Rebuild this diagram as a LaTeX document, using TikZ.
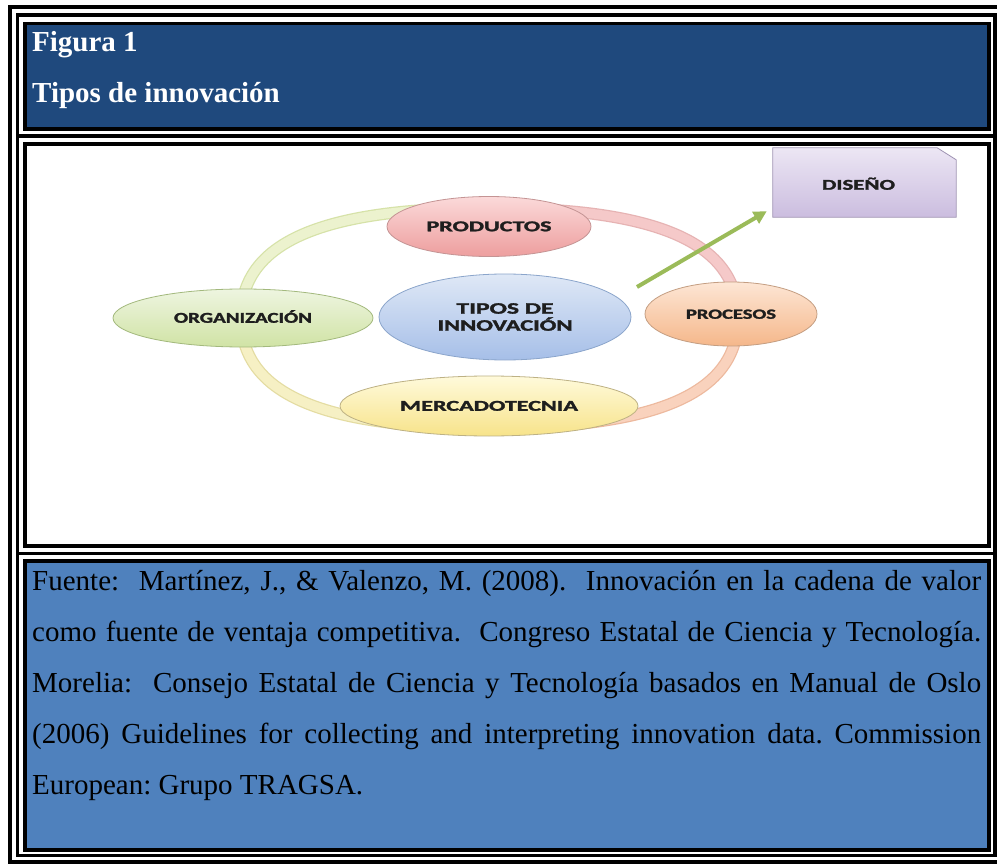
\documentclass[tikz,border=0pt]{standalone}
\usepackage{fontspec}
\usepackage{graphicx}
\setmainfont{Liberation Serif}
\newfontfamily\lblfont[BoldFont={Carlito Bold},BoldFeatures={FakeBold=1.6}]{Carlito}
\usetikzlibrary{arrows.meta,shapes.geometric}
\definecolor{titleblue}{HTML}{1F497D}
\definecolor{srcblue}{HTML}{4F81BD}
\definecolor{lblgray}{HTML}{1E1E1E}
\definecolor{arrowgreen}{HTML}{9BBB59}
% ring colours
\definecolor{pinkE}{HTML}{E6B3B3}\definecolor{pinkF}{HTML}{F5C9C9}
\definecolor{greenE}{HTML}{D6E2A8}\definecolor{greenF}{HTML}{ECF2CE}
\definecolor{yellE}{HTML}{E4DCA2}\definecolor{yellF}{HTML}{F6F0C4}
\definecolor{salmE}{HTML}{EDB99E}\definecolor{salmF}{HTML}{F9D2BD}
% node colours
\definecolor{orgD}{HTML}{A3B97D}\definecolor{orgT}{HTML}{EEF5E0}\definecolor{orgB}{HTML}{D0E3A5}
\definecolor{prodD}{HTML}{C49494}\definecolor{prodT}{HTML}{FBDADA}\definecolor{prodB}{HTML}{ED9E9E}
\definecolor{tipD}{HTML}{8BA5CB}\definecolor{tipT}{HTML}{DFE8F6}\definecolor{tipB}{HTML}{A6BFE8}
\definecolor{merD}{HTML}{BDB184}\definecolor{merT}{HTML}{FFFADB}\definecolor{merB}{HTML}{F7E38A}
\definecolor{proD}{HTML}{C49E82}\definecolor{proT}{HTML}{FDE6D5}\definecolor{proB}{HTML}{F5B78A}
\definecolor{disD}{HTML}{9F93B3}\definecolor{disT}{HTML}{ECE6F4}\definecolor{disB}{HTML}{CBBDDF}
\newcommand\fitw[2]{\resizebox{#1}{\height}{#2}}
\begin{document}
\begin{tikzpicture}[x=1pt,y=-1pt,
  frameline/.style={draw=black,line width=3.5pt},
  cellbox/.style={draw=black,line width=3.5pt},
  titletext/.style={anchor=base west,inner sep=0pt,text=white,font=\bfseries\fontsize{29}{34}\selectfont},
  srctext/.style={anchor=base west,inner sep=0pt,text=black,font=\fontsize{29}{34}\selectfont\frenchspacing},
  oval/.style={ellipse,inner sep=0pt,line width=0.8pt,text=lblgray,font=\lblfont\bfseries\fontsize{15}{17}\selectfont},
  one/.style={text height=9.5pt,text depth=0pt},
  ringedge/.style={line width=12pt,draw=#1},
  ringfill/.style={line width=9.5pt,draw=#1}
]
\useasboundingbox (0,0) rectangle (997,864);
\fill[white] (0,0) rectangle (997,864);

% table frame
\draw[frameline,line width=4pt] (10,7) rectangle (1003,862);
\draw[frameline] (17.5,15) rectangle (995,855.5);
\draw[frameline] (17.5,136) -- (995,136);
\draw[frameline] (17.5,553.5) -- (995,553.5);

% cells
\draw[cellbox,fill=titleblue] (25,23.5) rectangle (989,129);
\draw[cellbox,fill=white] (25,144) rectangle (989,546);
\draw[cellbox,fill=srcblue] (25,561) rectangle (989,850);

% title
\node[titletext] (t1) at (32,52) {Figura 1};
\node[titletext] (t2) at (32,103) {Tipos de innovación};

% source text
\node[srctext] (s1) at (32,590) {\makebox[949pt][s]{Fuente:\ \ Martínez, J., \& Valenzo, M. (2008).\ \ Innovación en la cadena de valor}};
\node[srctext] (s2) at (32,641) {\makebox[949pt][s]{como fuente de ventaja competitiva.\ \ Congreso Estatal de Ciencia y Tecnología.}};
\node[srctext] (s3) at (32,692) {\makebox[949pt][s]{Morelia:\ \ Consejo Estatal de Ciencia y Tecnología basados en Manual de Oslo}};
\node[srctext] (s4) at (32,743) {\makebox[949pt][s]{(2006) Guidelines for collecting and interpreting innovation data. Commission}};
\node[srctext] (s5) at (32,794) {European: Grupo TRAGSA.};

% ring
\coordinate (rR) at (738,318);
\coordinate (rT) at (489,208);
\coordinate (rL) at (241,318);
\coordinate (rB) at (489,428);
\draw[ringedge=pinkE] (rR) .. controls (738,243) and (658,208) .. (rT);
\draw[ringfill=pinkF] (rR) .. controls (738,243) and (658,208) .. (rT);
\draw[ringedge=greenE] (rT) .. controls (320,208) and (241,243) .. (rL);
\draw[ringfill=greenF] (rT) .. controls (320,208) and (241,243) .. (rL);
\draw[ringedge=yellE] (rL) .. controls (241,393) and (320,428) .. (rB);
\draw[ringfill=yellF] (rL) .. controls (241,393) and (320,428) .. (rB);
\draw[ringedge=salmE] (rB) .. controls (658,428) and (738,393) .. (rR);
\draw[ringfill=salmF] (rB) .. controls (658,428) and (738,393) .. (rR);

% ellipses
\node[oval,one,draw=orgD,top color=orgT,bottom color=orgB,
  minimum width=260pt,minimum height=58pt] (org) at (243,318) {\fitw{138pt}{ORGANIZACIÓN}};
\node[oval,one,draw=prodD,top color=prodT,bottom color=prodB,
  minimum width=204pt,minimum height=60pt] (prod) at (489,226.5) {\fitw{125pt}{PRODUCTOS}};
\node[oval,draw=tipD,top color=tipT,bottom color=tipB,
  minimum width=252pt,minimum height=86pt,align=center,
  font=\lblfont\bfseries\fontsize{16}{17}\selectfont] (tipos) at (505,317)
  {\fitw{97pt}{TIPOS DE}\\\fitw{135pt}{INNOVACIÓN}};
\node[oval,one,draw=merD,top color=merT,bottom color=merB,
  minimum width=298pt,minimum height=60pt] (merc) at (489,406) {\fitw{178pt}{MERCADOTECNIA}};
\node[oval,one,draw=proD,top color=proT,bottom color=proB,
  minimum width=172pt,minimum height=64pt,font=\lblfont\bfseries\fontsize{14}{16}\selectfont] (proc) at (731,314) {\fitw{90pt}{PROCESOS}};

% DISEÑO box with snipped corner
\node[inner sep=0pt,minimum width=183pt,minimum height=69pt] (dis) at (864.5,182.5) {};
\path[draw=disD,line width=0.8pt,top color=disT,bottom color=disB]
  (dis.south west) -- (dis.north west) -- ([xshift=-19pt]dis.north east)
  -- ([yshift=-12pt]dis.north east) -- (dis.south east) -- cycle;
\node[inner sep=0pt,one,text=lblgray,font=\lblfont\bfseries\fontsize{15}{17}\selectfont] (dislbl) at (858.5,185) {\fitw{73pt}{DISEÑO}};

% arrow
\coordinate (astart) at (637,287);
\draw[arrowgreen,line width=4pt,-{Triangle[length=13pt,width=13pt]}]
  (astart) -- ([xshift=-6pt,yshift=6pt]dis.south west);
\end{tikzpicture}
\end{document}
